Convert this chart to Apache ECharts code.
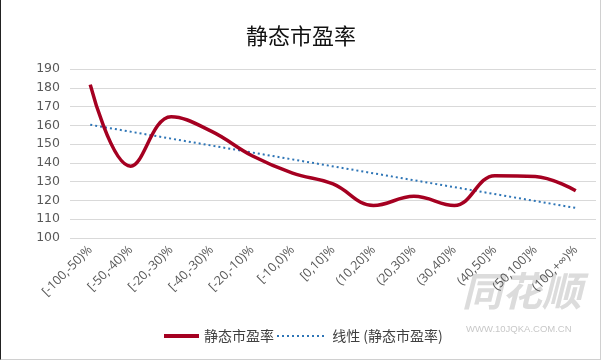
<!DOCTYPE html>
<html>
<head>
<meta charset="utf-8">
<script src="https://cdn.jsdelivr.net/npm/echarts@6/dist/echarts.min.js"></script>
<style>
html,body{margin:0;padding:0;background:#fff;}
#chart{position:absolute;left:0;top:0;width:602px;height:362px;}
#frame{position:absolute;left:0;top:0;width:599px;height:359px;border-left:1px solid #222;border-right:1px solid #d0d0d0;border-bottom:1px solid #d0d0d0;pointer-events:none;}
</style>
</head>
<body>
<div id="chart"></div>
<div id="frame"></div>
<script>
const titleText = '静态市盈率';
const categories = ['[-100,-50)%','[-50,-40)%','[-20,-30)%','[-40,-30)%','[-20,-10)%','[-10,0)%','[0,10]%','(10,20]%','(20,30]%','(30,40]%','(40,50]%','(50,100]%','(100,+∞)%'];
const peValues = [181.7, 138.2, 164.6, 156.8, 143.8, 134.6, 128.8, 117.3, 122.2, 117.3, 133.2, 132.8, 125.2];
const trendValues = [160.3, null, null, null, null, null, null, null, null, null, null, null, 116.0];
const seriesName = '静态市盈率';
const trendName = '线性 (静态市盈率)';
const yTicks = {min: 100, max: 190, interval: 10};

const legendText = {fontFamily: 'Noto Sans CJK SC', fontSize: 14, color: '#404040'};
const chart = echarts.init(document.getElementById('chart'));
chart.setOption({
  animation: false,
  title: {
    text: titleText, left: 'center', top: 20,
    textStyle: {fontFamily: 'Noto Sans CJK SC', fontSize: 22, fontWeight: 'normal', color: '#111'}
  },
  grid: {left: 70, right: 6, top: 69, bottom: 124},
  xAxis: {
    type: 'category', data: categories, boundaryGap: true,
    axisLine: {show: false}, axisTick: {show: false},
    axisLabel: {rotate: 45, interval: 0, margin: 10, fontFamily: 'Open Sans', fontSize: 12.5, color: '#595959'}
  },
  yAxis: {
    type: 'value', min: yTicks.min, max: yTicks.max, interval: yTicks.interval,
    axisLine: {show: false}, axisTick: {show: false},
    axisLabel: {margin: 10, fontFamily: 'DejaVu Sans', fontSize: 12.5, color: '#595959'},
    splitLine: {lineStyle: {color: '#d9d9d9', width: 1}}
  },
  legend: [
    {
      bottom: 14, left: 157, itemWidth: 35, itemHeight: 10,
      itemStyle: {opacity: 0}, lineStyle: {width: 4},
      textStyle: legendText, data: [seriesName]
    },
    {
      bottom: 14, left: 271, itemWidth: 47, itemHeight: 10,
      itemStyle: {opacity: 0},
      textStyle: legendText, data: [trendName], formatter: function (n) { return ' ' + n; }
    }
  ],
  graphic: [
    {type: 'text', left: 462, top: 271, z: -1, style: {text: '同花顺', font: 'italic bold 40px "Noto Sans CJK SC"', fill: '#dcdcdc'}},
    {type: 'text', left: 466, top: 324, z: -1, style: {text: 'WWW.10JQKA.COM.CN', font: '9.5px "Liberation Sans"', fill: '#c8c8c8'}}
  ],
  series: [
    {
      name: seriesName, type: 'line', data: peValues, smooth: 0.4, symbol: 'none',
      lineStyle: {color: '#a50021', width: 3.5}, itemStyle: {color: '#a50021'}, z: 3
    },
    {
      name: trendName, type: 'line', data: trendValues, connectNulls: true, symbol: 'none',
      lineStyle: {color: '#2e75b6', width: 2, type: [2, 3]}, itemStyle: {color: '#2e75b6'}, z: 2
    }
  ]
});
</script>
</body>
</html>
